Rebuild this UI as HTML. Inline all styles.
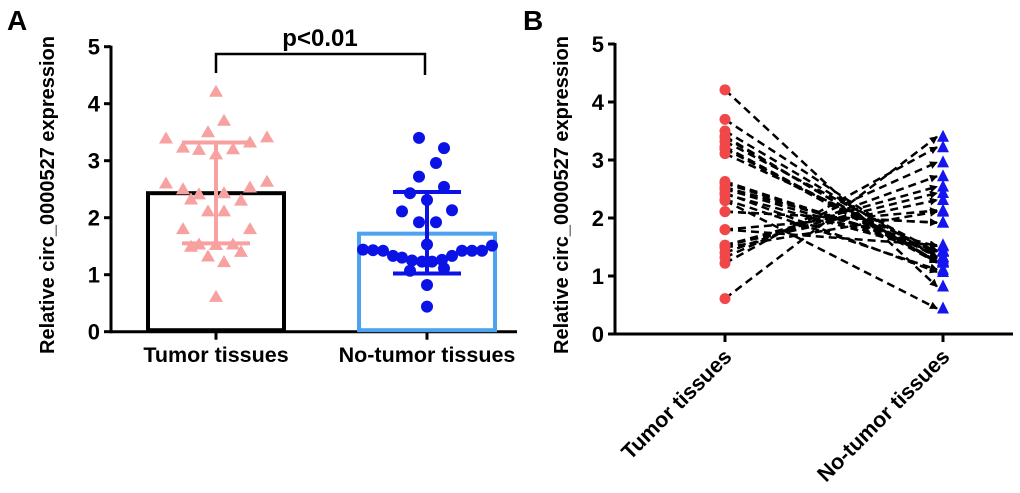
<!DOCTYPE html>
<html><head><meta charset="utf-8"><style>
html,body{margin:0;padding:0;background:#fff;width:1020px;height:493px;overflow:hidden}
svg{display:block;font-family:"Liberation Sans",Arial,sans-serif;font-weight:bold}
</style></head><body>
<svg id="chart" width="1020" height="493" viewBox="0 0 1020 493">
<defs><marker id="ah" markerWidth="8" markerHeight="8" refX="7" refY="4" orient="auto" markerUnits="userSpaceOnUse"><path d="M0,0 L8,4 L0,8 Z" fill="#000"/></marker></defs>
<text x="7" y="30" font-size="28">A</text>
<text x="523" y="30" font-size="28">B</text>
<g id="pa"></g>
<g id="pb"></g>
</svg>
<script>
const categories = ["Tumor tissues", "No-tumor tissues"];
const yTicks = [0, 1, 2, 3, 4, 5];
const barMeans = [2.43, 1.72];
const sdLow = [1.55, 1.02];
const sdHigh = [3.32, 2.45];
const tumorValues = [4.21,3.70,3.50,3.39,3.41,3.23,3.19,3.20,3.32,3.11,2.60,2.63,2.50,2.41,2.43,2.53,2.32,2.30,2.11,2.11,1.80,1.80,1.49,1.53,1.52,1.53,1.40,1.32,1.22,0.61];
const normalValues = [3.40,3.22,2.96,2.72,2.54,2.43,2.31,2.11,2.13,1.92,1.92,1.53,1.44,1.43,1.42,1.33,1.30,1.25,1.23,1.23,1.26,1.33,1.42,1.42,1.42,1.51,1.07,1.11,0.82,0.44];
const tumorJitter = [0,8,-8,-50,51,-33,-17,17,34,0,-50,51,-33,-17,8,34,-25,25,-8,8,-33,34,-25,-17,0,17,25,-8,8,0];
const normalJitter = [-8,17,9,-8,17,-17,0,-25,25,-8,9,0,-64,-54,-44,-34,-25,-15,-5,5,15,25,35,45,55,65,-17,17,0,0];
const pairIdx = [28,16,15,17,18,20,21,19,22,24,13,12,14,23,26,25,27,29,10,9,11,8,7,6,5,4,3,2,1,0];

const NS="http://www.w3.org/2000/svg";
function mk(tag,attrs,parent){const e=document.createElementNS(NS,tag);for(const k in attrs)e.setAttribute(k,attrs[k]);parent.appendChild(e);return e;}

// Panel A
const pa=document.getElementById('pa');
const yA=v=>331.7-v*57;
const xA=[216,427];
mk('line',{x1:111,y1:yA(0),x2:517,y2:yA(0),stroke:'#000','stroke-width':3},pa);
mk('line',{x1:111,y1:yA(5)-1,x2:111,y2:yA(0)+1.5,stroke:'#000','stroke-width':3},pa);
yTicks.forEach(t=>{
  const l=mk('line',{x1:104,y1:yA(t),x2:111,y2:yA(t),stroke:'#000','stroke-width':3},pa);
  
  
  const tx=mk('text',{x:100,y:yA(t)+8,'font-size':22,'text-anchor':'end'},pa);tx.textContent=t;
  
  
});
const ya=mk('text',{x:0,y:0,'font-size':20,'text-anchor':'middle',transform:'translate(54,195) rotate(-90)'},pa);
ya.textContent='Relative circ_0000527 expression';


const barCol=['#000','#4da3f0'], ptCol=['#f7a1a1','#0a12e6'];
categories.forEach((c,i)=>{
  const x=xA[i];
  mk('line',{x1:x,y1:yA(0),x2:x,y2:yA(0)+8,stroke:'#000','stroke-width':3},pa);
  const tx=mk('text',{x:x,y:362,'font-size':21.5,'text-anchor':'middle'},pa);tx.textContent=c;
  
  
  const b=mk('rect',{x:x-68,y:yA(barMeans[i]),width:136,height:yA(0)-yA(barMeans[i])-1.5,fill:'none',stroke:barCol[i],'stroke-width':4},pa);
  
  
});
tumorValues.forEach((v,k)=>{
  const x=xA[0]+tumorJitter[k], y=yA(v);
  const p=mk('polygon',{points:`${x},${y-7} ${x-7},${y+5} ${x+7},${y+5}`,fill:ptCol[0]},pa);
  
  
});
normalValues.forEach((v,k)=>{
  const p=mk('circle',{cx:xA[1]+normalJitter[k],cy:yA(v),r:6,fill:ptCol[1]},pa);
  
  
});
[0,1].forEach(i=>{
  const x=xA[i],c=i?ptCol[1]:'#f7a1a1';
  mk('line',{x1:x,y1:yA(sdLow[i]),x2:x,y2:yA(sdHigh[i]),stroke:c,'stroke-width':4},pa);
  mk('line',{x1:x-34,y1:yA(sdLow[i]),x2:x+34,y2:yA(sdLow[i]),stroke:c,'stroke-width':4},pa);
  mk('line',{x1:x-34,y1:yA(sdHigh[i]),x2:x+34,y2:yA(sdHigh[i]),stroke:c,'stroke-width':4},pa);
});
mk('path',{d:`M216,73 V54 H425 V75`,fill:'none',stroke:'#000','stroke-width':2.5},pa);
const pv=mk('text',{x:320,y:46,'font-size':24,'text-anchor':'middle'},pa);pv.textContent='p<0.01';



// Panel B
const pb=document.getElementById('pb');
const yB=v=>334-v*58;
const xB=[725,943];
mk('line',{x1:615,y1:yB(0),x2:1013,y2:yB(0),stroke:'#000','stroke-width':3},pb);
mk('line',{x1:615,y1:yB(5)-1,x2:615,y2:yB(0)+1.5,stroke:'#000','stroke-width':3},pb);
yTicks.forEach(t=>{
  mk('line',{x1:608,y1:yB(t),x2:615,y2:yB(t),stroke:'#000','stroke-width':3},pb);
  const tx=mk('text',{x:604,y:yB(t)+8,'font-size':22,'text-anchor':'end'},pb);tx.textContent=t;
  
  
});
const yb=mk('text',{x:0,y:0,'font-size':20,'text-anchor':'middle',transform:'translate(568,195) rotate(-90)'},pb);
yb.textContent='Relative circ_0000527 expression';


categories.forEach((c,i)=>{
  const x=xB[i];
  mk('line',{x1:x,y1:yB(0),x2:x,y2:yB(0)+8,stroke:'#000','stroke-width':3},pb);
  const tx=mk('text',{x:0,y:0,'font-size':21.5,'text-anchor':'end',transform:`translate(${x+8},${yB(0)+24}) rotate(-45)`},pb);
  tx.textContent=c;
  
  
});
tumorValues.forEach((v,k)=>{
  const w=normalValues[pairIdx[k]];
  const l=mk('line',{x1:xB[0],y1:yB(v),x2:xB[1]-6,y2:yB(w),stroke:'#000','stroke-width':2.5,'stroke-dasharray':'8,5','marker-end':'url(#ah)'},pb);
  
  
});
tumorValues.forEach(v=>{
  const c=mk('circle',{cx:xB[0],cy:yB(v),r:5.5,fill:'#f04848'},pb);
  
  
});
normalValues.forEach(v=>{
  const x=xB[1],y=yB(v);
  const p=mk('polygon',{points:`${x},${y-7} ${x-6},${y+5} ${x+6},${y+5}`,fill:'#1515f0'},pb);
  
  
});
</script>
</body></html>
